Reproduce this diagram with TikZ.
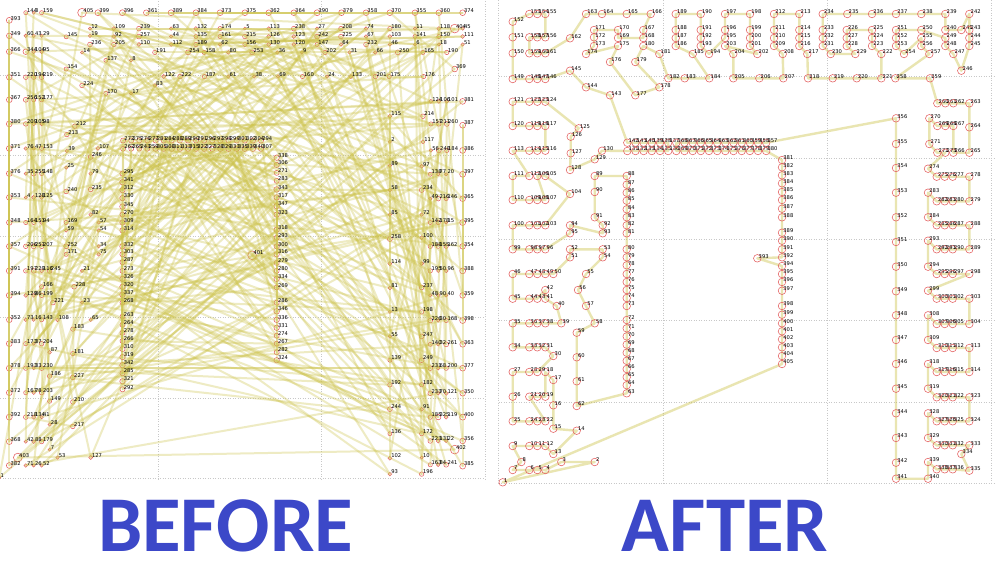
\documentclass[tikz,border=0pt]{standalone}
\usepackage{fontspec}
\newfontfamily\labfont{DejaVu Sans}
\newfontfamily\capfont{Carlito}
\definecolor{routecol}{RGB}{200,190,60}
\definecolor{beforecol}{RGB}{205,195,75}
\definecolor{ringcol}{RGB}{228,95,95}
\definecolor{capblue}{RGB}{60,72,200}
\definecolor{gridcol}{RGB}{200,200,200}
\tikzset{
  routeline/.style={draw=routecol, line width=2.4pt, opacity=0.4, line cap=round, line join=round},
  beforeline/.style={draw=beforecol, line width=2.0pt, opacity=0.33, line cap=round},
  ring/.style={draw=ringcol, line width=0.55pt},
  lab/.style={anchor=base west, inner sep=0pt, text=black, font=\labfont\fontsize{5.2}{6}\selectfont},
  gridline/.style={draw=gridcol, line width=0.5pt, dotted},
  caption/.style={anchor=base, inner sep=0pt, text=capblue, font=\capfont\bfseries\fontsize{79}{80}\selectfont}
}
\def\pts{%
1/502.7/482.3/1,2/594.7/462/127,3/561.3/462/53,4/545.3/470/52,5/537.3/470/26,6/529.3/470/71,7/512.7/470/382,8/521.3/462/403,9/512.7/446/368,10/529.3/446/42,%
11/537.3/446/88,12/545.3/446/179,13/553.3/454/7,14/576.7/430.7/217,15/553.3/428.7/28,16/553.3/405.3/149,17/553.3/380/186,18/545.3/372/230,19/545.3/396.7/203,20/537.3/396.7/78,%
21/529.3/396.7/167,22/545.3/421.3/41,23/537.3/421.3/134,24/529.3/421.3/218,25/512.7/421.3/392,26/512.7/396.7/372,27/512.7/372/378,28/529.3/372/193,29/537.3/372/33,30/553.3/356/87,%
31/545.3/347.3/204,32/537.3/347.3/37,33/529.3/347.3/173,34/512.7/347.3/383,35/512.7/323.3/352,36/529.3/323.3/73,37/537.3/323.3/16,38/545.3/323.3/143,39/561.3/323.3/108,40/556.7/306/221,%
41/545.3/298.7/199,42/545.3/290/166,43/537.3/298.7/86,44/529.3/298.7/129,45/512.7/298.7/394,46/512.7/274/391,47/529.3/274/197,48/537.3/274/229,49/545.3/274/116,50/553.3/274/245,%
51/570/257.3/171,52/570/249.3/252,53/602.7/249.3/34,54/602.7/257.3/75,55/586/274/21,56/578/290/228,57/586/306/23,58/594.7/323.3/65,59/576.7/332.7/183,60/576.7/357.3/181,%
61/576.7/381.3/227,62/576.7/406/210,63/626.7/393.3/292,64/626.7/385.2/321,65/626.7/377.1/285,66/626.7/369/342,67/626.7/360.8/319,68/626.7/352.7/310,69/626.7/344.6/266,70/626.7/336.4/278,%
71/626.7/328.3/264,72/626.7/320/263,73/626.7/306/268,74/626.7/298/337,75/626.7/290/320,76/626.7/282/326,77/626.7/274/273,78/626.7/265.3/287,79/626.7/257.3/303,80/626.7/249.3/332,%
81/626.7/233.3/314,82/626.7/225.3/309,83/626.7/217.3/270,84/626.7/209.3/345,85/626.7/200.7/330,86/626.7/192.7/312,87/626.7/184.7/341,88/626.7/176/295,89/594.7/176/79,90/594.7/192/235,%
91/594.7/217.3/82,92/602.7/225.3/57,93/602.7/233.3/54,94/570/225.3/169,95/570/233.3/59,96/545.3/249.3/207,97/537.3/249.3/251,98/529.3/249.3/206,99/512.7/249.3/357,100/512.7/225.3/348,%
101/529.3/225.3/164,102/537.3/225.3/151,103/545.3/225.3/94,104/570/194/240,105/545.3/176/148,106/537.3/176/255,107/545.3/200/125,108/537.3/200/128,109/529.3/200/4,110/512.7/200/353,%
111/512.7/176/376,112/529.3/176/35,113/512.7/150.7/371,114/529.3/150.7/76,115/537.3/150.7/47,116/545.3/150.7/153,117/545.3/126/98,118/537.3/126/105,119/529.3/126/209,120/512.7/126/380,%
121/512.7/101.7/367,122/529.3/101.7/256,123/537.3/101.7/152,124/545.3/101.7/177,125/578.7/128.3/212,126/570.7/136.7/213,127/570.7/153.3/39,128/570/170/25,129/594.7/159.3/246,130/602/150.7/107,%
131/627.3/151/262,132/635.5/151/265,133/643.6/151/243,134/651.8/151/259,135/660/151/305,136/668.2/151/308,137/668.2/142.7/284,138/660/142.7/281,139/651.8/142.7/277,140/643.6/142.7/276,%
141/635.5/142.7/275,142/627.3/142.7/272,143/610/95.3/170,144/586/87.3/224,145/570/70.7/154,146/545.3/79/219,147/537.3/79/194,148/529.3/79/220,149/512.7/79/351,150/512.7/53.3/366,%
151/512.7/37.3/349,152/512.7/21.7/393,153/529.3/14/144,154/537.3/14/3,155/545.3/14/159,156/545.3/37.3/29,157/537.3/37.3/43,158/529.3/37.3/60,159/529.3/53.3/344,160/537.3/53.3/104,%
161/545.3/53.3/95,162/570/38.3/145,163/586/14/405,164/602/14/399,165/626.7/14/396,166/650.7/14/361,167/643.3/30/239,168/643.3/38/257,169/618/38/92,170/618/30/109,%
171/594/30/12,172/594/37.3/19,173/594/46/236,174/586/54/14,175/618/46/205,176/610/62/137,177/635.3/95.3/17,178/659.3/87.3/83,179/635.3/62/8,180/643.3/46/110,%
181/659.3/54/191,182/668.3/78.3/122,183/684.7/78.3/222,184/709.3/78.3/187,185/692.7/54/254,186/675.7/46/112,187/675.7/38/44,188/675.7/30/63,189/675.7/14/389,190/700.7/14/384,%
191/700.7/30/132,192/700.7/38/135,193/700.7/46/189,194/709/54/158,195/725/38/161,196/725/30/174,197/725/14/373,198/750/14/375,199/750/30/5,200/750/38/215,%
201/750/46/156,202/757.3/54/253,203/725/46/62,204/733.3/54/80,205/733.3/78.3/61,206/759.3/78.3/38,207/783.3/78.3/69,208/782.7/54/36,209/774/46/130,210/774/38/126,%
211/774/30/113,212/774/14/362,213/799.3/14/364,214/799.3/30/238,215/799.3/38/123,216/799.3/46/120,217/807.3/54/9,218/808/78.3/160,219/832.7/78.3/24,220/856.7/78.3/133,%
221/881.3/78.3/201,222/881.3/54/66,223/872/46/232,224/872/38/67,225/872/30/74,226/846.7/30/208,227/846.7/38/225,228/846.7/46/64,229/855.3/54/31,230/830.7/54/202,%
231/822.7/46/147,232/822.7/38/242,233/822.7/30/27,234/822.7/14/390,235/847.3/14/379,236/872/14/358,237/896/14/370,238/921.3/14/355,239/945.3/14/360,240/945.3/30/118,%
241/961.3/30/404,242/969.3/14/374,243/969.3/30/45,244/969.3/38/111,245/969.3/46/51,246/961.3/70.7/369,247/953.3/54/190,248/945.3/46/18,249/945.3/38/150,250/921.3/30/11,%
251/896/30/180,252/896/38/103,253/896/46/46,254/904/54/250,255/921.3/38/141,256/921.3/46/6,257/929.3/54/165,258/895.3/78.3/175,259/930/78.3/176,260/937.3/103.3/124,%
261/945.3/103.3/106,262/953.3/103.3/101,263/969.3/103.3/381,264/969.3/127.3/387,265/969.3/152.7/386,266/953.3/152.7/184,267/953.3/126/260,268/945.3/126/211,269/937.3/126/157,270/929.3/118.3/214,%
271/929.3/144/117,272/937.3/152.7/56,273/945.3/152.7/248,274/928/168.7/97,275/936.7/176.7/138,276/944.7/176.7/77,277/952.7/176.7/20,278/969.3/176.7/397,279/969.3/201.3/365,280/952.7/201.3/146,%
281/944.7/201.3/216,282/936.7/201.3/49,283/928/192.7/234,284/928/217.3/72,285/936.7/225.3/142,286/944.7/225.3/178,287/952.7/225.3/15,288/969.3/225.3/395,289/969.3/249.3/354,290/952.7/249.3/162,%
291/944.7/249.3/155,292/936.7/249.3/188,293/928/240.7/100,294/928/266.7/99,295/936.7/274/195,296/944.7/274/50,297/952.7/274/96,298/969.3/274/388,299/928/290.7/237,300/936.7/298.7/48,%
301/944.7/298.7/90,302/952.7/298.7/40,303/969.3/298.7/359,304/969.3/324/398,305/952.7/324/168,306/944.7/324/30,307/936.7/324/226,308/928/315.3/198,309/928/340/247,310/936.7/348/140,%
311/944.7/348/32,312/952.7/348/261,313/969.3/348/363,314/969.3/372/377,315/952.7/372/200,316/944.7/372/68,317/936.7/372/231,318/928/364/249,319/928/388.7/182,320/936.7/397.3/233,%
321/944.7/397.3/70,322/952.7/397.3/121,323/969.3/397.3/350,324/969.3/421.3/400,325/952.7/421.3/119,326/944.7/421.3/325,327/936.7/421.3/185,328/928/413.3/91,329/928/438/172,330/936.7/445.3/223,%
331/944.7/445.3/131,332/952.7/445.3/22,333/969.3/445.3/356,334/961.3/454/402,335/969.3/470.7/385,336/952.7/469.3/241,337/944.7/469.3/84,338/936.7/469.3/163,339/928/462/10,340/928/478.7/196,%
341/896/478.7/93,342/896/462.7/102,343/896/438/136,344/896/413.3/244,345/896/388.7/192,346/896/364/139,347/896/340/55,348/896/315.3/13,349/896/291.3/81,350/896/266.7/114,%
351/896/242/258,352/896/217.3/85,353/896/192.7/58,354/896/168/89,355/896/144/2,356/896/118.3/115,357/766.2/142.7/294,358/758/142.7/304,359/749.9/142.7/302,360/741.7/142.7/301,%
361/733.5/142.7/299,362/725.3/142.7/298,363/717.2/142.7/297,364/709/142.7/296,365/700.8/142.7/291,366/692.7/142.7/290,367/684.5/142.7/289,368/676.3/142.7/288,369/676.3/151/311,370/684.5/151/313,%
371/692.7/151/315,372/700.8/151/322,373/709/151/327,374/717.2/151/328,375/725.3/151/329,376/733.5/151/333,377/741.7/151/335,378/749.9/151/339,379/758/151/340,380/766.2/151/307,%
381/782/160/338,382/782/167.3/306,383/782/175.3/271,384/782/183.3/283,385/782/192/343,386/782/200/317,387/782/208.7/347,388/782/217.3/323,389/782/232.7/318,390/782/240.7/293,%
391/782/249.3/300,392/782/257.3/316,393/757.3/258.3/401,394/782/266/279,395/782/274/280,396/782/282/334,397/782/290.7/269,398/782/306/286,399/782/314.7/346,400/782/323.3/336,%
401/782/331.3/331,402/782/339.3/274,403/782/347.3/267,404/782/356/282,405/782/364/324}
\begin{document}
\begin{tikzpicture}[x=1pt,y=1pt]
\useasboundingbox (0,0) rectangle (1000,-566);
\fill[white] (0,0) rectangle (1000,-566);
% ---------- AFTER panel (right) ----------
\begin{scope}
  \foreach \xg in {498.7,663,827.3,991.6} {\draw[gridline] (\xg,0) -- (\xg,-484);}
  \foreach \yg in {76.7,158,239.3,320.6,402,483.3} {\draw[gridline] (498.7,-\yg) -- (996,-\yg);}
  \foreach \ra/\xa/\ya/\la in \pts {\coordinate (R\ra) at (\xa,-\ya);}
  \draw[routeline] (R1) \foreach \i in {2,...,405} { -- (R\i) } -- cycle;
  \foreach \ra/\xa/\ya/\la in \pts {
    \draw[ring] (R\ra) circle[radius=3.8];
    \node[lab] (tR\ra) at ([xshift=1.2pt,yshift=0.3pt]R\ra) {\ra};
  }
\end{scope}
% ---------- BEFORE panel (left) ----------
\begin{scope}[shift={(-499.8,1.2)},scale=0.993]
  \foreach \xg in {498.7,663,827.3,991.6} {\draw[gridline] (\xg,0) -- (\xg,-484);}
  \foreach \yg in {76.7,158,239.3,320.6,402,483.3} {\draw[gridline] (498.7,-\yg) -- (990,-\yg);}
  \foreach \ra/\xa/\ya/\la in \pts {\coordinate (L\la) at (\xa,-\ya);}
  \foreach \ra/\xa/\ya/\la in \pts {
    \pgfmathsetmacro\rad{ifthenelse(\la>400,4.4,1.5+1.5*\la/400)}
    \draw[ring] (L\la) circle[radius=\rad];
  }
  \foreach \i in {1,...,404} {
    \pgfmathtruncatemacro\j{\i+1}
    \ifcsname pgf@sh@ns@L\i\endcsname\ifcsname pgf@sh@ns@L\j\endcsname
      \draw[beforeline] (L\i) -- (L\j);
    \fi\fi
  }
  \draw[beforeline] (L405) -- (L1);
  \foreach \ra/\xa/\ya/\la in \pts {
    \node[lab] (tL\la) at ([xshift=1.2pt,yshift=0.3pt]L\la) {\la};
  }
\end{scope}
% ---------- captions ----------
\node[caption] (before) at (225.5,-551.7) {BEFORE};
\node[caption] (after) at (725,-551.7) {AFTER};
\end{tikzpicture}
\end{document}
